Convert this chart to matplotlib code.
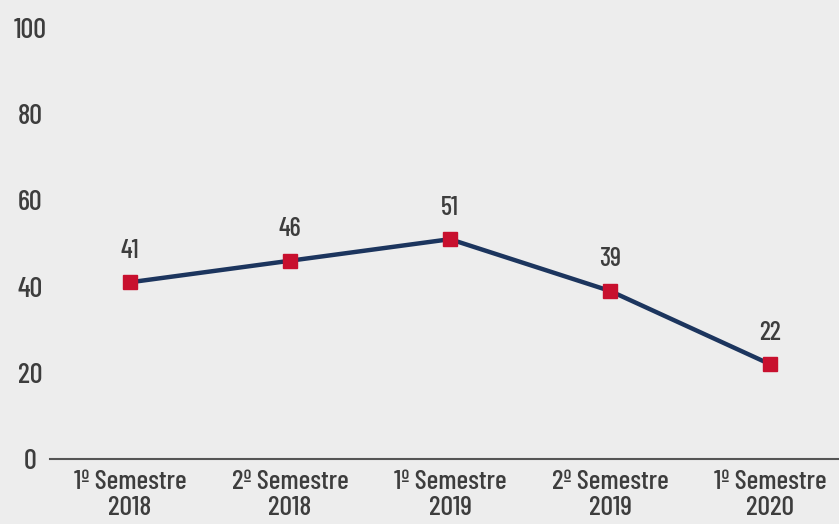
import matplotlib.pyplot as plt

# datos
periodos = ['1º Semestre\n2018', '2º Semestre\n2018', '1º Semestre\n2019',
            '2º Semestre\n2019', '1º Semestre\n2020']
valores = [41, 46, 51, 39, 22]
ticks_y = [0, 20, 40, 60, 80, 100]

fondo = '#ededed'
texto = '#3d3d3d'
fuente = ['Barlow Condensed', 'DejaVu Sans']

fig = plt.figure(figsize=(8.39, 5.24), dpi=100)
fig.patch.set_facecolor(fondo)
ax = fig.add_axes([50 / 839, (524 - 459) / 524, 800 / 839, 431 / 524])
ax.set_facecolor(fondo)

x = list(range(len(valores)))
ax.plot(x, valores, color='#1c355e', linewidth=3.2, zorder=2)
ax.plot(x, valores, linestyle='none', marker='s', markersize=9.5,
        color='#c8102e', zorder=3)

for xi, v in zip(x, valores):
    ax.annotate(str(v), (xi, v), xytext=(0, 14), textcoords='offset points',
                ha='center', va='bottom', fontsize=19, color=texto,
                family=fuente, fontweight='medium')

ax.set_xlim(-0.5, 4.5)
ax.set_ylim(0, 100)
ax.set_xticks(x)
ax.set_xticklabels(periodos, fontsize=20, color=texto, family=fuente,
                   fontweight='medium', linespacing=1.12)
ax.set_yticks(ticks_y)
ax.set_yticklabels([str(t) for t in ticks_y], fontsize=20.5, color=texto,
                   family=fuente, fontweight='medium', ha='center')
ax.tick_params(axis='both', length=0)
ax.tick_params(axis='x', pad=8)
ax.tick_params(axis='y', pad=14)

for lado in ['top', 'right', 'left']:
    ax.spines[lado].set_visible(False)
ax.spines['bottom'].set_color('#555555')
ax.spines['bottom'].set_linewidth(1.5)

fig.savefig('out.png', dpi=100, facecolor=fondo)
